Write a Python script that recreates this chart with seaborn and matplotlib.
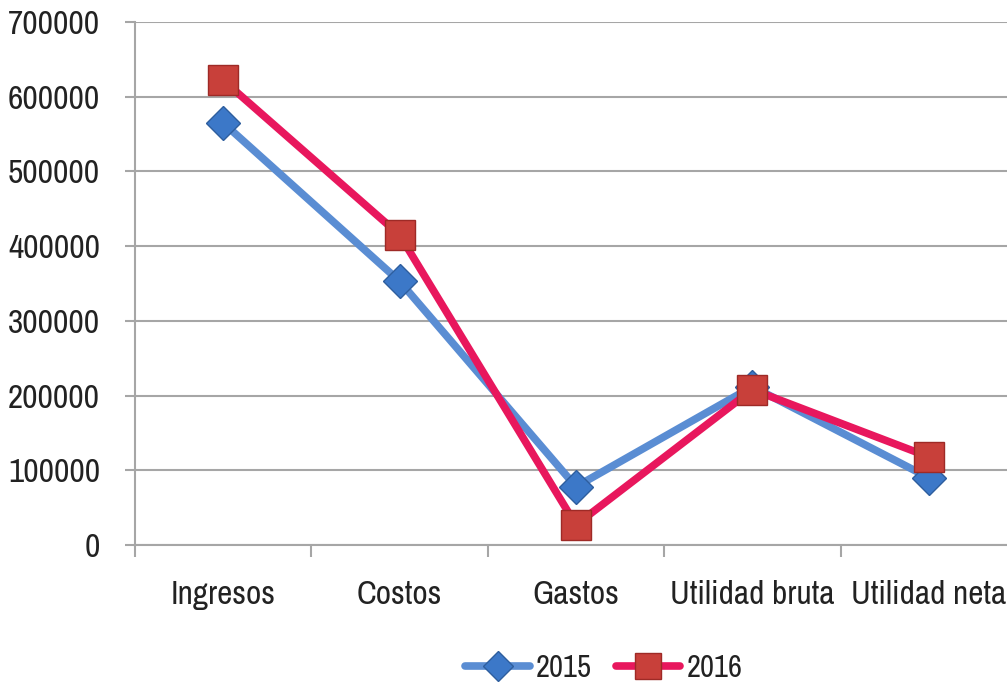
import numpy as np
import pandas as pd
import seaborn as sns
import matplotlib
matplotlib.use("Agg")
import matplotlib.pyplot as plt
from matplotlib.lines import Line2D

categories = ["Ingresos", "Costos", "Gastos", "Utilidad bruta", "Utilidad neta"]
values_2015 = [565000, 353000, 78000, 212000, 90000]
values_2016 = [622000, 415000, 27000, 208000, 118000]
years = ["2015", "2016"]
yticks = [0, 100000, 200000, 300000, 400000, 500000, 600000, 700000]

df = pd.DataFrame({
    "cat": categories * 2,
    "val": values_2015 + values_2016,
    "year": [years[0]] * 5 + [years[1]] * 5,
})

sns.set_theme(style="white")
plt.rcParams["font.family"] = ["Archivo Narrow", "PT Sans Narrow", "Roboto Condensed",
                               "Liberation Sans", "DejaVu Sans"]

fig = plt.figure(figsize=(10.07, 6.84), dpi=100)
ax = fig.add_axes([135 / 1007, 139 / 684, 882 / 1007, 523 / 684])

line_colors = {"2015": "#5A8DD3", "2016": "#E8175D"}
sns.lineplot(data=df, x="cat", y="val", hue="year", style="year", palette=line_colors,
             markers={"2015": "D", "2016": "s"}, dashes=False, sort=False,
             linewidth=5.5, ax=ax, legend=False)

face = {"2015": "#3C78C8", "2016": "#C8403A"}
edge = {"2015": "#2E5E9E", "2016": "#9E2A26"}
msize = {"2015": 17, "2016": 21}
for ln, y in zip(ax.lines, years):
    ln.set_markerfacecolor(face[y])
    ln.set_markeredgecolor(edge[y])
    ln.set_markeredgewidth(1.0)
    ln.set_markersize(msize[y])

ax.set_xlim(-0.5, 4.5)
ax.set_ylim(0, 700000)
ax.set_yticks(yticks)
ax.set_yticklabels([str(v) for v in yticks])
ax.yaxis.grid(True, color="#A6A6A6", linewidth=1.5)
ax.set_axisbelow(True)
ax.set_xlabel("")
ax.set_ylabel("")

for s in ["top", "right"]:
    ax.spines[s].set_visible(False)
ax.spines["left"].set_color("#A6A6A6")
ax.spines["left"].set_linewidth(1.5)
ax.spines["bottom"].set_color("#A6A6A6")
ax.spines["bottom"].set_linewidth(1.5)

ax.tick_params(axis="y", which="major", length=7.2, width=1.5, color="#A6A6A6",
               pad=18, labelsize=24, labelcolor="#222222", left=True)
ax.tick_params(axis="x", which="major", length=0, pad=25, labelsize=24, labelcolor="#222222")
ax.set_xticks(np.arange(-0.5, 5.0, 1.0), minor=True)
ax.tick_params(axis="x", which="minor", length=8.6, width=1.5, color="#A6A6A6", bottom=True)

handles = [
    Line2D([0], [0], color=line_colors["2015"], lw=5.5, marker="D", markersize=15,
           markerfacecolor=face["2015"], markeredgecolor=edge["2015"]),
    Line2D([0], [0], color=line_colors["2016"], lw=5.5, marker="s", markersize=19,
           markerfacecolor=face["2016"], markeredgecolor=edge["2016"]),
]
leg = fig.legend(handles, years, loc="center", bbox_to_anchor=(604 / 1007, 1 - 668 / 684),
                 ncol=2, frameon=False, handlelength=2.1, columnspacing=0.8, handletextpad=0.2,
                 prop={"size": 22, "weight": "bold"})
for t in leg.get_texts():
    t.set_color("#222222")

fig.savefig("out.png", dpi=100)
